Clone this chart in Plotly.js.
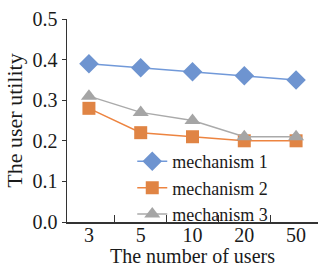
<!DOCTYPE html>
<html>
<head>
<meta charset="utf-8">
<script src="https://cdn.plot.ly/plotly-3.0.1.min.js"></script>
<style>html,body{margin:0;padding:0;background:#fff;}#chart{width:319px;height:266px;}</style>
</head>
<body>
<div id="chart"></div>
<script>
const categories = ["3", "5", "10", "20", "50"];
const mechanism1 = [0.39, 0.38, 0.37, 0.36, 0.35];
const mechanism2 = [0.28, 0.22, 0.21, 0.20, 0.20];
const mechanism3 = [0.31, 0.27, 0.25, 0.21, 0.21];
const seriesNames = ["mechanism 1", "mechanism 2", "mechanism 3"];
const xTitle = "The number of users";
const yTitle = "The user utility";

const font = "Liberation Serif, Times New Roman, serif";
const traces = [
  {x: categories, y: mechanism1, name: seriesNames[0], mode: "lines+markers",
   line: {color: "#7199D9", width: 1.5}, marker: {symbol: "diamond", size: 15, color: "#6E94D0"}},
  {x: categories, y: mechanism2, name: seriesNames[1], mode: "lines+markers",
   line: {color: "#ED8440", width: 1.5}, marker: {symbol: "square", size: 13, color: "#E08444"}},
  {x: categories, y: mechanism3, name: seriesNames[2], mode: "lines+markers",
   line: {color: "#AAAAAA", width: 1.5}, marker: {symbol: "triangle-up", size: 14, color: "#A5A5A5"}}
];
const layout = {
  width: 319, height: 266,
  margin: {l: 67, r: 1, t: 19, b: 44},
  paper_bgcolor: "#fff", plot_bgcolor: "#fff",
  font: {family: font, size: 20, color: "#1a1a1a"},
  showlegend: true,
  legend: {x: 0.26, y: 0.389, xanchor: "left", yanchor: "top", bgcolor: "rgba(0,0,0,0)",
           font: {family: font, size: 18, color: "#1a1a1a"}, tracegroupgap: 0},
  xaxis: {type: "category", tickson: "boundaries", ticks: "inside", ticklen: 7, tickcolor: "#333",
          showline: true, linecolor: "#333", linewidth: 1.5, showgrid: false, zeroline: false,
          tickfont: {family: font, size: 20}, ticklabelstandoff: -6, automargin: false},
  yaxis: {range: [0, 0.5], dtick: 0.1, tickformat: ".1f", ticks: "outside", ticklen: 4, tickcolor: "#333",
          showline: true, linecolor: "#333", linewidth: 1.5, showgrid: false, zeroline: false,
          tickfont: {family: font, size: 20}, automargin: false,
          title: {text: yTitle, font: {family: font, size: 22}, standoff: 4}},
  annotations: [{text: xTitle, xref: "paper", yref: "paper", x: 0.5, y: 0, xanchor: "center", yanchor: "top",
                 yshift: -21, showarrow: false, font: {family: font, size: 20, color: "#1a1a1a"}}]
};
Plotly.newPlot("chart", traces, layout, {displayModeBar: false, staticPlot: true});
</script>
</body>
</html>
